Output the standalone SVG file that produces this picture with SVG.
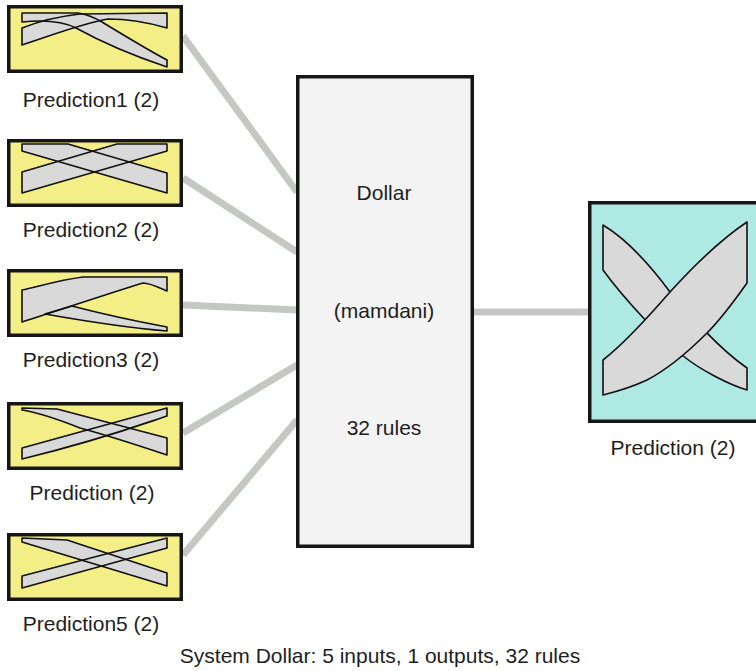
<svg xmlns="http://www.w3.org/2000/svg" xmlns:xlink="http://www.w3.org/1999/xlink" width="756" height="671" viewBox="0 0 756 671">
  <style>
    text { font-family: "Liberation Sans", Arial, sans-serif; font-size: 21px; fill: #1e1e1e; }
    .lbl { text-anchor: middle; }
    .box { stroke: #161616; stroke-width: 3.5; }
    .shadow { fill: #161616; }
    .inp { fill: #f3ef86; }
    .out { fill: #aee9e4; }
    .sys { fill: #f3f3f3; }
    .mf { fill: #d9d9d9; stroke: none; }
    .edge { fill: none; stroke: #111; stroke-width: 1.6; stroke-linejoin: round; }
    .link { stroke: #c5c7c5; stroke-width: 7; fill: none; }
  </style>
  <defs>
    <!-- membership-function footprints: falling (f) and rising (r) bands -->
    <path id="f1" d="M22,13 L78,13 C90,15 97,19 102,22 C125,36 148,50 167,60 L167,67 C140,58 105,44 76,28 C62,21 42,20 22,22 Z"/>
    <path id="r1" d="M22,28 C42,20 62,16 80,14 L167,13 L167,28 C150,23 128,19 108,19 C80,24 50,36 22,45 Z"/>
    <path id="f2" d="M22,144 L68,144 L167,173 L167,193 L22,151 Z"/>
    <path id="r2" d="M167,144 L117,144 L22,172 L22,193 L167,151 Z"/>
    <path id="r3" d="M22,290 C40,286 60,280 83,277 L167,277 L167,291 C160,288 150,283 143,283 C110,293 60,310 22,322 Z"/>
    <path id="f3" d="M45,314 L72,306 C110,316 140,322 167,327 L167,331 C130,328 90,322 45,314 Z"/>
    <path id="f4" d="M22,408 L57,409 L167,438 L167,455 C140,446 110,436 80,428 C60,420 40,413 22,410 Z"/>
    <path id="r4" d="M22,448 L167,408 L167,416 C140,425 100,440 22,459 Z"/>
    <path id="f5" d="M22,538 L67,540 L167,573 L167,586 L22,542 Z"/>
    <path id="r5" d="M22,576 L167,538 L167,548 L22,588 Z"/>
    <path id="fo" d="M603,225 C628,240 650,265 670,292 C688,313 718,348 747,368 L747,390 C730,385 700,370 682,355 C660,337 625,300 603,270 Z"/>
    <path id="ro" d="M603,360 C625,343 650,315 670,292 C690,270 720,240 747,222 L747,283 C735,300 720,320 707,333 C690,350 670,368 647,380 C630,388 615,392 603,395 Z"/>
  </defs>

  <g id="connectors">
    <line class="link" x1="183" y1="36" x2="297" y2="192"/>
    <line class="link" x1="183" y1="178" x2="297" y2="252"/>
    <line class="link" x1="183" y1="305" x2="297" y2="310"/>
    <line class="link" x1="183" y1="433" x2="297" y2="365"/>
    <line class="link" x1="183" y1="555" x2="297" y2="420"/>
    <line class="link" x1="474" y1="312" x2="590" y2="312"/>
  </g>

  <g id="input1">
    <rect class="shadow" x="10.25" y="8.25" width="172.5" height="64.5"/>
    <rect class="box inp" x="8.75" y="6.75" width="172.5" height="64.5"/>
    <use xlink:href="#f1" class="mf"/><use xlink:href="#r1" class="mf"/>
    <use xlink:href="#f1" class="edge"/><use xlink:href="#r1" class="edge"/>
    <text class="lbl" x="91" y="107">Prediction1 (2)</text>
  </g>

  <g id="input2">
    <rect class="shadow" x="10.25" y="142.25" width="172.5" height="64.5"/>
    <rect class="box inp" x="8.75" y="140.75" width="172.5" height="64.5"/>
    <use xlink:href="#f2" class="mf"/><use xlink:href="#r2" class="mf"/>
    <use xlink:href="#f2" class="edge"/><use xlink:href="#r2" class="edge"/>
    <text class="lbl" x="91" y="237">Prediction2 (2)</text>
  </g>

  <g id="input3">
    <rect class="shadow" x="10.25" y="272.25" width="172.5" height="64.5"/>
    <rect class="box inp" x="8.75" y="270.75" width="172.5" height="64.5"/>
    <use xlink:href="#f3" class="mf"/><use xlink:href="#r3" class="mf"/>
    <use xlink:href="#f3" class="edge"/><use xlink:href="#r3" class="edge"/>
    <text class="lbl" x="91" y="367">Prediction3 (2)</text>
  </g>

  <g id="input4">
    <rect class="shadow" x="10.25" y="405.25" width="172.5" height="64.5"/>
    <rect class="box inp" x="8.75" y="403.75" width="172.5" height="64.5"/>
    <use xlink:href="#f4" class="mf"/><use xlink:href="#r4" class="mf"/>
    <use xlink:href="#f4" class="edge"/><use xlink:href="#r4" class="edge"/>
    <text class="lbl" x="92" y="500">Prediction (2)</text>
  </g>

  <g id="input5">
    <rect class="shadow" x="10.25" y="536.25" width="172.5" height="64.5"/>
    <rect class="box inp" x="8.75" y="534.75" width="172.5" height="64.5"/>
    <use xlink:href="#f5" class="mf"/><use xlink:href="#r5" class="mf"/>
    <use xlink:href="#f5" class="edge"/><use xlink:href="#r5" class="edge"/>
    <text class="lbl" x="91" y="631">Prediction5 (2)</text>
  </g>

  <g id="system">
    <rect class="shadow" x="299.25" y="78.25" width="174.5" height="469.5"/>
    <rect class="box sys" x="297.75" y="76.75" width="174.5" height="469.5"/>
    <text class="lbl" x="384" y="200">Dollar</text>
    <text class="lbl" x="384" y="318">(mamdani)</text>
    <text class="lbl" x="384" y="435">32 rules</text>
  </g>

  <g id="output">
    <rect class="shadow" x="591.25" y="204.25" width="180" height="218.5"/>
    <rect class="box out" x="589.75" y="202.75" width="180" height="218.5"/>
    <!-- rising band lies over the falling one -->
    <use xlink:href="#fo" class="mf"/><use xlink:href="#fo" class="edge"/>
    <use xlink:href="#ro" class="mf"/><use xlink:href="#ro" class="edge"/>
    <text class="lbl" x="673" y="455">Prediction (2)</text>
  </g>

  <text id="caption" class="lbl" x="380" y="663">System Dollar: 5 inputs, 1 outputs, 32 rules</text>
</svg>
